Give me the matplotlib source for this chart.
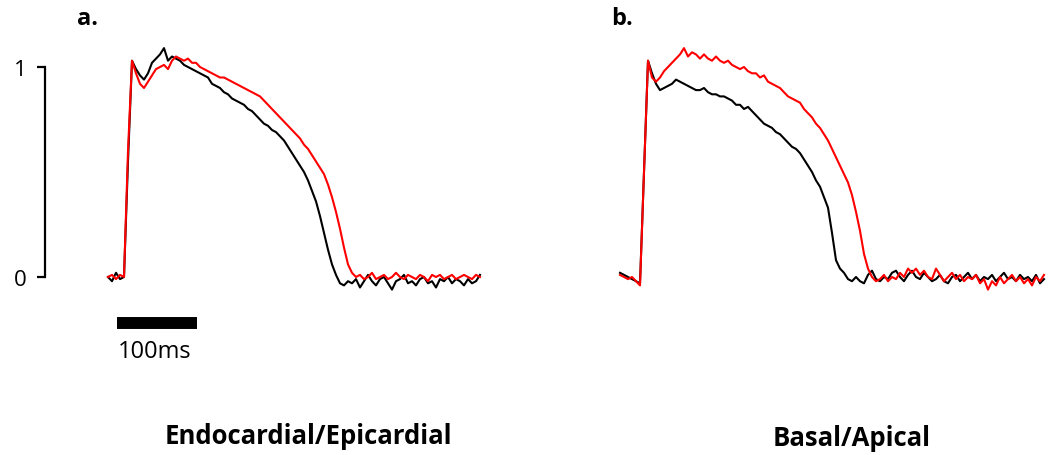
import matplotlib
matplotlib.use("Agg")
import matplotlib.pyplot as plt
import numpy as np

plt.rcParams['font.family'] = ['Open Sans', 'DejaVu Sans']

# normalised optical action potentials, sampled every 5 ms
time_a = np.arange(0, 470, 5)
time_b = np.arange(0, 535, 5)

endo_a = [0.00, -0.02, 0.02, -0.01, 0.00,
          0.55, 1.03, 0.99, 0.96, 0.94, 0.97, 1.02, 1.04,
          1.06, 1.09, 1.03, 1.05, 1.04, 1.03, 1.01, 1.00,
          0.99, 0.98, 0.97, 0.96, 0.95, 0.92, 0.91, 0.90,
          0.88, 0.87, 0.85, 0.84, 0.83, 0.82, 0.80, 0.79,
          0.77, 0.75, 0.73, 0.72, 0.70, 0.69, 0.67, 0.65,
          0.62, 0.59, 0.56, 0.53, 0.50, 0.46, 0.41, 0.36,
          0.29, 0.21, 0.13, 0.06, 0.01, -0.03, -0.04, -0.02,
          -0.03, -0.01, -0.05, -0.02, 0.01, -0.02, -0.04, -0.01,
          0.00, -0.03, -0.06, -0.02, -0.01, 0.01, -0.03, -0.02,
          -0.04, -0.01, 0.00, -0.03, -0.02, -0.05, -0.01, -0.02,
          0.00, -0.03, -0.01, -0.02, -0.04, -0.01, -0.03, -0.02,
          0.01]
epi_a = [0.00, 0.01, -0.01, 0.01, 0.00,
         0.60, 1.03, 0.97, 0.92, 0.90, 0.93, 0.96, 0.99,
         1.00, 1.01, 0.99, 1.03, 1.05, 1.04, 1.03, 1.04,
         1.02, 1.02, 1.00, 0.99, 0.98, 0.97, 0.96, 0.95,
         0.95, 0.94, 0.93, 0.92, 0.91, 0.90, 0.89, 0.88,
         0.87, 0.86, 0.84, 0.82, 0.80, 0.78, 0.76, 0.74,
         0.72, 0.70, 0.68, 0.66, 0.63, 0.61, 0.58, 0.55,
         0.52, 0.49, 0.44, 0.38, 0.31, 0.23, 0.14, 0.06,
         0.02, 0.00, 0.01, -0.01, 0.00, 0.02, -0.01, 0.00,
         0.01, -0.01, 0.00, 0.02, 0.00, -0.01, 0.01, 0.00,
         -0.01, 0.01, 0.00, -0.02, 0.01, 0.00, 0.01, -0.01,
         0.00, 0.01, -0.01, 0.00, 0.01, 0.00, -0.01, 0.01,
         0.00]

basal_b = [0.02, 0.01, 0.00, -0.01, -0.02, -0.03,
           0.50, 1.03, 0.97, 0.92, 0.89, 0.90, 0.91, 0.92,
           0.94, 0.93, 0.92, 0.91, 0.90, 0.89, 0.89, 0.90,
           0.88, 0.87, 0.87, 0.86, 0.86, 0.85, 0.84, 0.82,
           0.82, 0.80, 0.81, 0.79, 0.77, 0.75, 0.73, 0.72,
           0.71, 0.69, 0.68, 0.66, 0.64, 0.62, 0.61, 0.59,
           0.56, 0.53, 0.50, 0.46, 0.43, 0.38, 0.33, 0.21,
           0.08, 0.04, 0.02, -0.01, -0.02, 0.00, -0.02, -0.03,
           0.01, 0.03, -0.01, -0.02, 0.00, -0.01, 0.02, 0.03,
           0.00, -0.02, 0.01, 0.03, 0.00, -0.01, 0.02, 0.00,
           -0.02, -0.01, 0.01, -0.02, -0.03, 0.00, 0.01, -0.02,
           0.00, 0.02, -0.01, 0.01, -0.02, 0.00, -0.01, 0.01,
           -0.02, 0.00, 0.02, -0.01, 0.00, -0.02, 0.01, -0.01,
           0.00, -0.02, 0.01, -0.03, -0.01]
apical_b = [0.01, 0.00, -0.01, 0.00, -0.02, -0.04,
            0.50, 1.03, 0.95, 0.93, 0.95, 0.98, 1.00, 1.02,
            1.04, 1.06, 1.09, 1.05, 1.07, 1.06, 1.04, 1.06,
            1.04, 1.03, 1.05, 1.03, 1.02, 1.03, 1.01, 1.00,
            0.99, 1.00, 0.98, 0.97, 0.97, 0.95, 0.96, 0.93,
            0.92, 0.91, 0.90, 0.88, 0.86, 0.85, 0.84, 0.83,
            0.80, 0.78, 0.76, 0.73, 0.71, 0.68, 0.65, 0.61,
            0.57, 0.53, 0.49, 0.45, 0.39, 0.31, 0.22, 0.11,
            0.04, 0.00, -0.02, -0.01, 0.01, -0.02, 0.00, -0.01,
            0.02, 0.00, 0.04, 0.02, 0.04, 0.01, 0.03, 0.00,
            -0.01, 0.04, 0.01, -0.02, 0.00, 0.02, -0.01, 0.01,
            -0.02, 0.00, -0.01, 0.01, -0.03, -0.01, -0.06, -0.02,
            -0.04, 0.00, -0.03, -0.01, 0.01, -0.02, 0.00, -0.03,
            -0.01, -0.04, 0.00, -0.02, 0.01]

W, H = 1048, 456
fig = plt.figure(figsize=(W / 100, H / 100), dpi=100)

# axes geometry in pixels: 0.8 px per ms, 210 px per unit
ax_w = 490
ylim = (-0.25, 1.25)
xlim = (-78.75, -78.75 + ax_w / 0.8)
bottom = (H - 330.5) / H
height = 315 / H

ax1 = fig.add_axes([45 / W, bottom, ax_w / W, height])
ax2 = fig.add_axes([557 / W, bottom, ax_w / W, height])

for ax in (ax1, ax2):
    ax.set_xlim(*xlim)
    ax.set_ylim(*ylim)
    for s in ('top', 'right', 'bottom'):
        ax.spines[s].set_visible(False)
    ax.set_xticks([])

ax1.plot(time_a, endo_a, color='black', lw=1.5)
ax1.plot(time_a, epi_a, color='red', lw=1.5)
ax2.plot(time_b, basal_b, color='black', lw=1.5)
ax2.plot(time_b, apical_b, color='red', lw=1.5)

ax1.spines['left'].set_bounds(0, 1)
ax1.spines['left'].set_linewidth(1.6)
ax1.set_yticks([0, 1])
ax1.set_yticklabels(['0', '1'], fontsize=16)
ax1.tick_params(axis='y', length=6, width=1.6, pad=7)
ax2.spines['left'].set_visible(False)
ax2.set_yticks([])

# scale bar 100 ms
ax1.plot([11.25, 111.25], [-0.219, -0.219], color='black', lw=8.6,
         solid_capstyle='butt', clip_on=False)
ax1.text(58.75, -0.352, '100ms', ha='center', va='center', fontsize=17)

fig.text(88 / W, 1 - 19 / H, 'a.', fontsize=17, fontweight='bold',
         ha='center', va='center')
fig.text(622 / W, 1 - 19 / H, 'b.', fontsize=17, fontweight='bold',
         ha='center', va='center')
fig.text(308 / W, 1 - 437 / H, 'Endocardial/Epicardial', fontsize=18.5,
         fontweight='bold', ha='center', va='center')
fig.text(852 / W, 1 - 439 / H, 'Basal/Apical', fontsize=18.5,
         fontweight='bold', ha='center', va='center')

fig.savefig('out.png', dpi=100)
